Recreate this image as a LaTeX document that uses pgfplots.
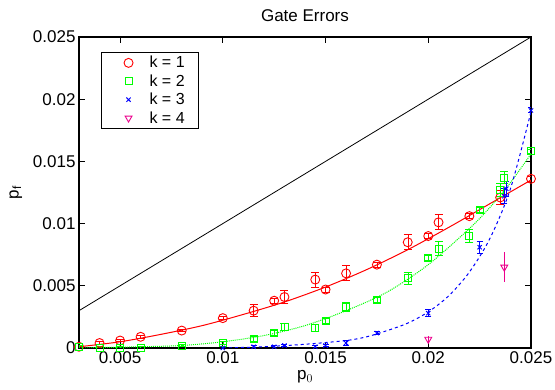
\documentclass[border=0pt]{standalone}
\usepackage{pgfplots}
\pgfplotsset{compat=1.18}
\usepackage{fontspec}
\setmainfont{Liberation Sans}
\begin{document}
\begin{tikzpicture}
\begin{axis}[
  scale only axis, width=452pt, height=311pt,
  xmin=0.003, xmax=0.025, ymin=0, ymax=0.025,
  xtick={0.005,0.01,0.015,0.02,0.025},
  ytick={0,0.005,0.01,0.015,0.02,0.025},
  scaled ticks=false,
  xticklabel style={/pgf/number format/fixed,/pgf/number format/precision=3},
  yticklabel style={/pgf/number format/fixed,/pgf/number format/precision=3},
  /pgf/number format/assume math mode=true,
  tick align=inside, major tick length=6pt,
  tick style={black, line width=0.8pt},
  axis line style={line width=1.2pt},
  font=\fontsize{17}{20}\selectfont,
  title={Gate Errors},
  title style={yshift=6pt},
  xlabel={p$_0$}, ylabel={p$_\mathrm{f}$},
  xlabel style={yshift=0pt},
  ylabel style={yshift=4pt},
  legend style={at={(0.049,0.952)}, anchor=north west, draw=black, line width=0.8pt,
    font=\fontsize{16}{17}\selectfont, inner xsep=2pt, inner ysep=2pt, row sep=1.3pt},
  legend cell align=left,
  legend image code/.code={\path[draw=none] (0pt,0pt) -- (44pt,0pt); \draw[#1] plot coordinates {(25pt,0pt)};},
]
% diagonal
\addplot[black, line width=0.8pt, forget plot] coordinates {(0.003,0.003) (0.025,0.025)};
% fits
\addplot[red, line width=1pt, smooth, forget plot] coordinates {
(0.003,0.0001)(0.005,0.0005)(0.007,0.0011)(0.009,0.0018)(0.011,0.0027)(0.013,0.0037)(0.015,0.0049)(0.017,0.0063)(0.019,0.0079)(0.021,0.0097)(0.023,0.0116)(0.025,0.0135)};
\addplot[green, line width=1pt, densely dotted, smooth, forget plot] coordinates {
(0.003,0)(0.006,0.0001)(0.008,0.0002)(0.01,0.0005)(0.012,0.001)(0.014,0.0018)(0.016,0.003)(0.018,0.0045)(0.02,0.0067)(0.022,0.0096)(0.023,0.0113)(0.024,0.0133)(0.025,0.0156)};
\addplot[blue, line width=1pt, dashed, smooth, forget plot] coordinates {
(0.01,0)(0.012,0.0001)(0.014,0.0003)(0.016,0.0006)(0.017,0.0009)(0.018,0.0014)(0.019,0.002)(0.02,0.0029)(0.021,0.0042)(0.022,0.0061)(0.023,0.0088)(0.024,0.0128)(0.025,0.019)};
% data
\addplot[red, only marks, mark=o, mark size=4.5pt, line width=0.9pt,
  error bars/.cd, y dir=both, y explicit, error mark options={rotate=90, mark size=4pt, line width=0.9pt}]
 table[x=x, y=y, y error=e] {
x y e
0.003 0.0001 0.0001
0.004 0.0004 0.0001
0.005 0.0006 0.0001
0.006 0.0009 0.0001
0.008 0.0014 0.0001
0.010 0.0024 0.0001
0.0115 0.0030 0.0005
0.0125 0.0038 0.0002
0.013 0.0041 0.0005
0.0145 0.0055 0.0006
0.015 0.0047 0.0002
0.016 0.0060 0.0006
0.0175 0.0067 0.0002
0.019 0.0085 0.0006
0.020 0.0090 0.0002
0.0205 0.0101 0.0006
0.022 0.0106 0.0002
0.0235 0.0121 0.0006
0.025 0.0136 0.0002
};
\addlegendentry{k = 1\hspace*{10pt}}
\addplot[green, only marks, mark=square, mark size=3.5pt, line width=0.9pt,
  error bars/.cd, y dir=both, y explicit, error mark options={rotate=90, mark size=4pt, line width=0.9pt}]
 table[x=x, y=y, y error=e] {
x y e
0.003 0.0001 0.0001
0.004 0.0000 0.0001
0.005 0.0000 0.0001
0.006 0.0000 0.0001
0.008 0.0002 0.0001
0.010 0.0004 0.0001
0.0115 0.0007 0.0002
0.0125 0.0012 0.0002
0.013 0.0017 0.0003
0.0145 0.0016 0.0003
0.015 0.0022 0.0002
0.016 0.0033 0.0004
0.0175 0.0039 0.0002
0.019 0.0056 0.0005
0.020 0.0072 0.0002
0.0205 0.0080 0.0006
0.022 0.0090 0.0005
0.0225 0.0111 0.0002
0.0235 0.0127 0.0005
0.0237 0.0137 0.0005
0.025 0.0158 0.0002
};
\addlegendentry{k = 2}
\addplot[blue, only marks, mark=x, mark size=3pt, line width=0.9pt,
  error bars/.cd, y dir=both, y explicit, error mark options={rotate=90, mark size=3pt, line width=0.9pt}]
 table[x=x, y=y, y error=e] {
x y e
0.010 0.0000 0.0001
0.0115 0.0001 0.0001
0.0125 0.0001 0.0001
0.013 0.0002 0.0001
0.0145 0.0001 0.0001
0.015 0.0002 0.0001
0.016 0.0004 0.0002
0.0175 0.0012 0.0001
0.020 0.0028 0.0003
0.0225 0.0081 0.0005
0.0237 0.0122 0.0006
0.0238 0.0128 0.0006
0.025 0.0191 0.0002
};
\addlegendentry{k = 3}
\addplot[magenta, only marks, mark=triangle, mark size=4pt, mark options={rotate=180}, line width=0.9pt,
  error bars/.cd, y dir=both, y explicit, error mark options={rotate=90, mark size=0pt, line width=0.9pt}]
 table[x=x, y=y, y error=e] {
x y e
0.020 0.0007 0.0003
0.0237 0.0065 0.0012
};
\addlegendentry{k = 4}
\end{axis}
\pgfresetboundingbox
\path (-79pt,-42pt) rectangle (476pt,348pt);
\end{tikzpicture}
\end{document}
